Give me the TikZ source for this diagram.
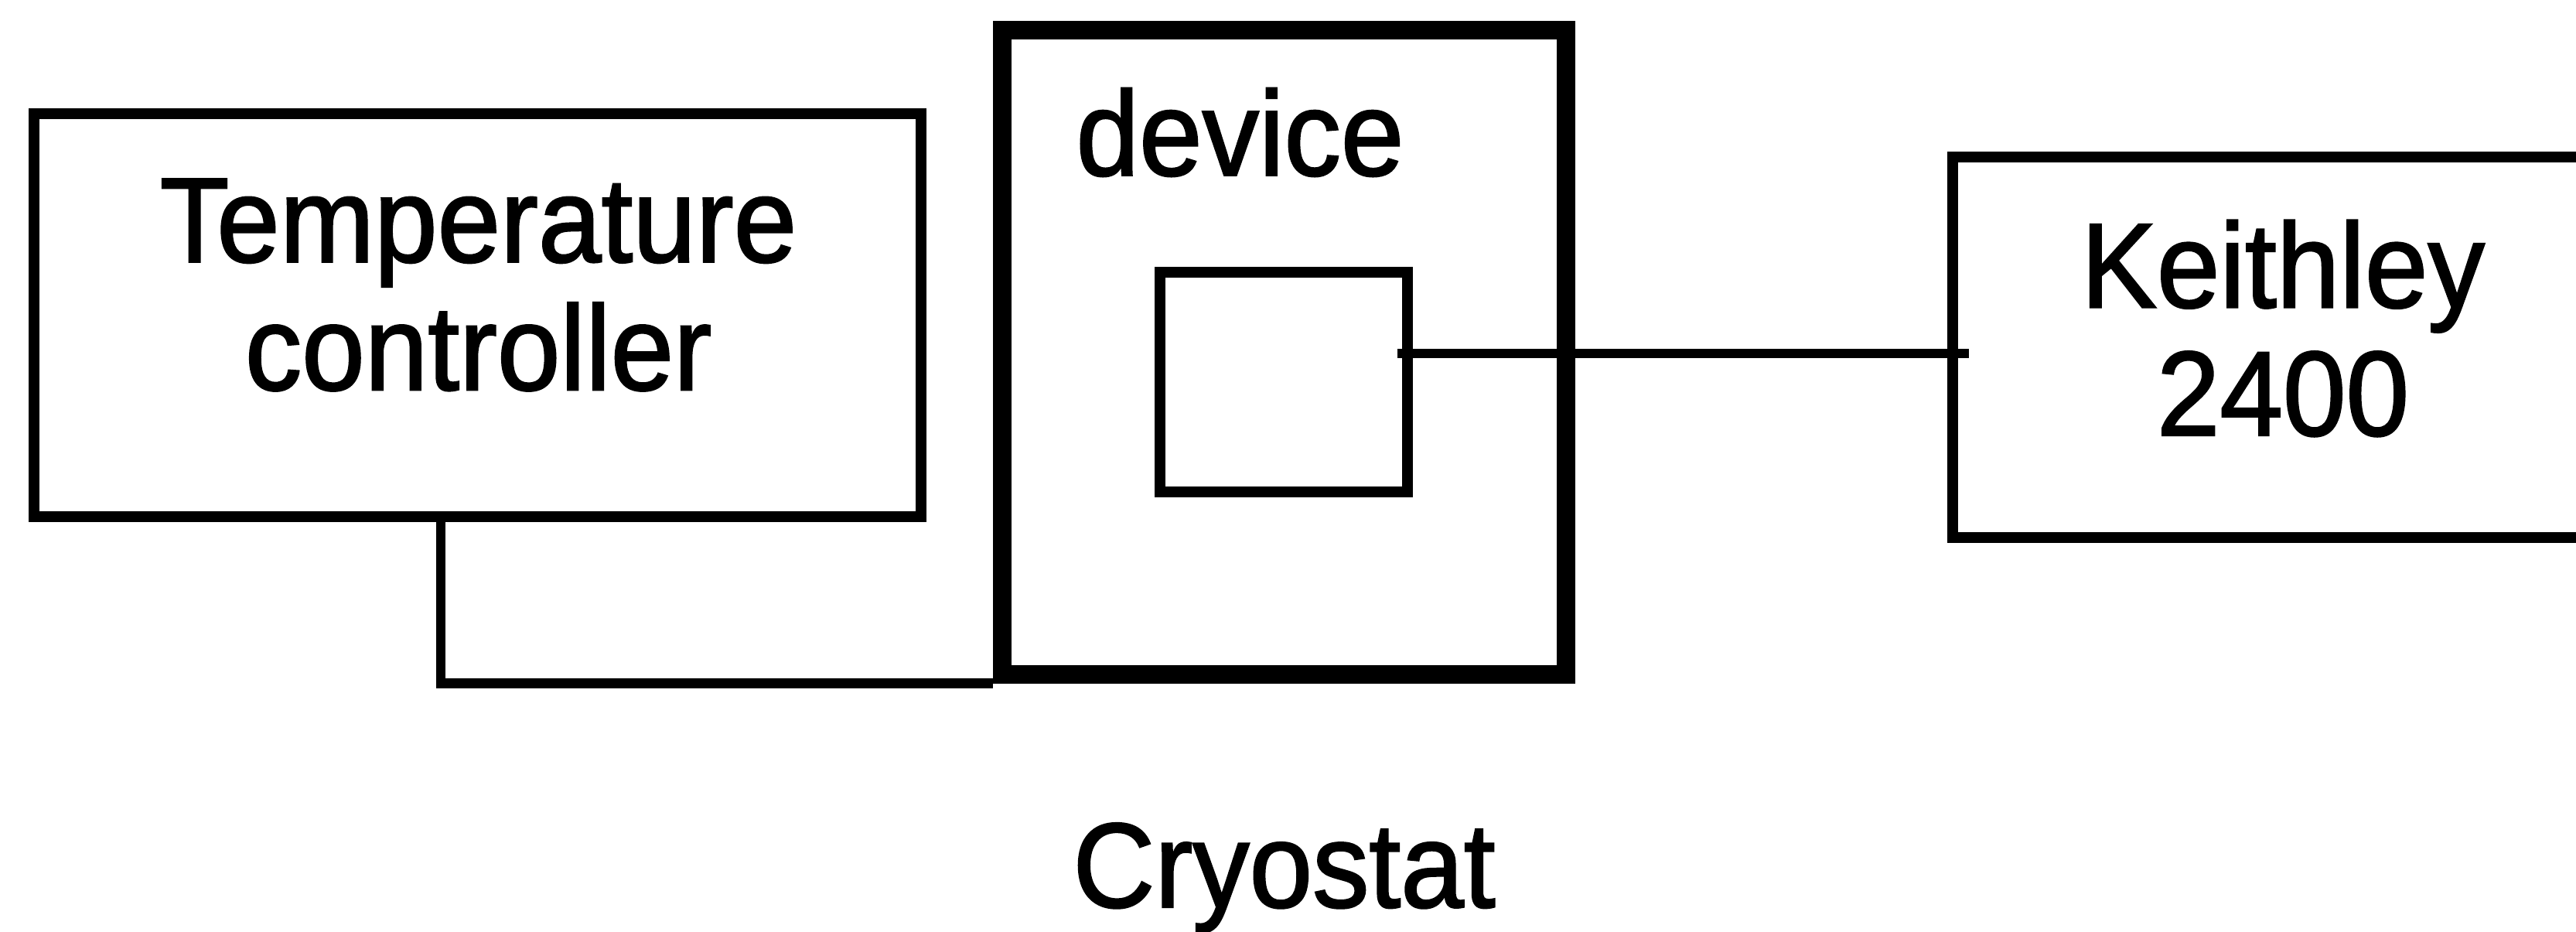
\documentclass[tikz,border=0pt]{standalone}
\usepackage{fontspec}
\setmainfont{Liberation Sans}
\newfontfamily\scanfont{Liberation Sans}[FakeStretch=0.94, FakeBold=1.5]
\usetikzlibrary{calc}

\begin{document}
\begin{tikzpicture}[
    box/.style={rectangle, draw=black, line width=1.9pt, inner sep=0pt},
    cryobox/.style={box, line width=3.3pt},
    lbl/.style={font=\scanfont\fontsize{22.2}{23.55}\selectfont, align=center, inner sep=0pt},
    wire/.style={line width=1.8pt}
  ]
  \useasboundingbox (0,0) rectangle (16.655,6.02);
  \fill[white] (0,0) rectangle (16.655,6.02);
  \clip (0,0) rectangle (16.655,6.02);

  % instruments
  \node[box, minimum width=5.735cm, minimum height=2.605cm] (tc) at (3.0875,3.9825) {};
  \node[lbl] (tctext) at (3.0925,4.1775) {Temperature\\controller};
  \node[box, minimum width=4.25cm, minimum height=2.46cm] (keith) at (14.75,3.775) {};
  \node[lbl] (keithtext) at (14.76,3.8975) {Keithley\\2400};

  % cryostat with sample inside
  \node[cryobox, minimum width=3.645cm, minimum height=4.165cm] (cryo) at (8.3025,3.7425) {};
  \node[box, minimum width=1.6cm, minimum height=1.42cm] (dev) at (8.3,3.55) {};
  \node[lbl, anchor=base] (devtext) at (8.0175,4.886) {device};
  \node[lbl, anchor=base] (cryotext) at (8.3025,0.155) {Cryostat};

  % wiring
  \draw[wire, shorten <=-0.1cm, shorten >=-0.14cm] ([yshift=0.185cm]dev.east) -- ([yshift=0.185cm]dev.east -| keith.west);
  \draw[wire] ([xshift=-0.2375cm]tc.south) |- (cryo.south west);
\end{tikzpicture}
\end{document}
